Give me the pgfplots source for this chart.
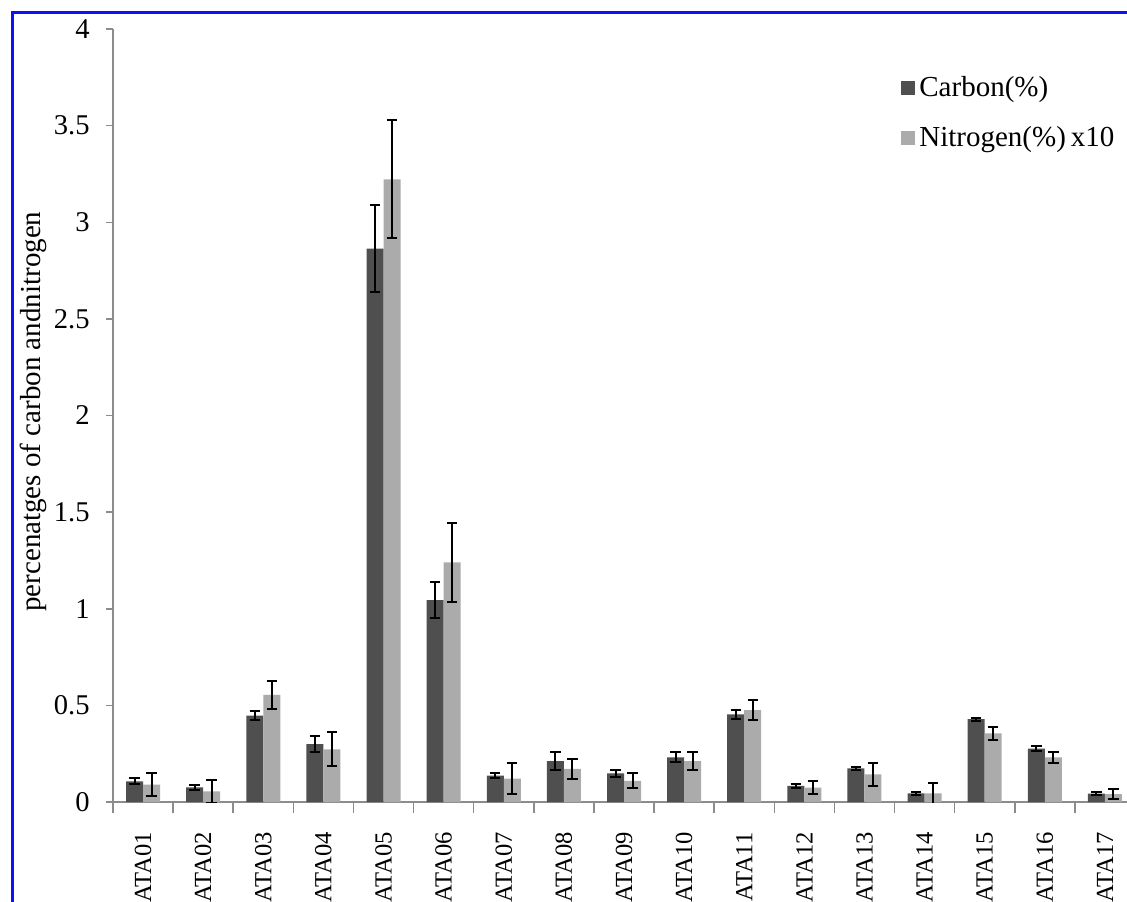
\documentclass[border=0pt]{standalone}
\usepackage{pgfplots}
\pgfplotsset{compat=1.18}
\usepackage{pgfplotstable}
\usepackage{fontspec}
\setmainfont{Liberation Serif}
\definecolor{darkbar}{HTML}{4F4F4F}
\definecolor{lightbar}{HTML}{ABABAB}
\definecolor{axisgray}{HTML}{8C8C8C}
\definecolor{frameblue}{HTML}{1010F0}
\pgfplotstableread{
x c cerr n nerr
0 0.107 0.015 0.090 0.058
1 0.076 0.012 0.055 0.058
2 0.447 0.023 0.554 0.073
3 0.300 0.039 0.273 0.088
4 2.863 0.225 3.222 0.305
5 1.045 0.095 1.240 0.206
6 0.136 0.012 0.121 0.081
7 0.212 0.048 0.172 0.053
8 0.148 0.017 0.110 0.039
9 0.231 0.026 0.212 0.047
10 0.454 0.023 0.476 0.054
11 0.083 0.008 0.074 0.034
12 0.174 0.008 0.143 0.060
13 0.045 0.009 0.045 0.055
14 0.429 0.008 0.355 0.034
15 0.276 0.014 0.231 0.028
16 0.043 0.008 0.041 0.024
}\datatable
\begin{document}
\begin{tikzpicture}
\useasboundingbox (0,0) rectangle (563.5pt,450.5pt);
\begin{axis}[
  at={(56.5pt,49.5pt)}, anchor=south west,
  scale only axis, width=511pt, height=386.5pt,
  xmin=-0.5, xmax=16.5, ymin=0, ymax=4,
  axis x line*=bottom, axis y line*=left,
  axis line style={axisgray, line width=0.75pt},
  ybar=0pt, bar width=8.5pt,
  xtick={0,...,16},
  xticklabels={ATA01,ATA02,ATA03,ATA04,ATA05,ATA06,ATA07,ATA08,ATA09,ATA10,ATA11,ATA12,ATA13,ATA14,ATA15,ATA16,ATA17},
  minor xtick={-0.5,0.5,...,16.5},
  major x tick style={draw=none},
  minor x tick style={axisgray, line width=0.75pt},
  ytick={0,0.5,...,4},
  major y tick style={axisgray, line width=0.75pt},
  tick align=outside,
  major tick length=3.5pt, minor tick length=5.5pt,
  /pgf/number format/assume math mode=true,
  xticklabel style={font=\fontsize{12.3}{15}\selectfont, text=black, rotate=90, anchor=east, inner sep=0pt},
  xticklabel shift=11.5pt,
  yticklabel style={font=\fontsize{14.3}{16}\selectfont, text=black, anchor=east, inner sep=0pt, xshift=-8pt},
  yticklabel shift=0pt,
  ylabel={percenatges of carbon andnitrogen},
  every axis y label/.style={at={(axis description cs:-0.0783,0.505)}, rotate=90, anchor=center,
    font=\fontsize{14.5}{16}\selectfont},
  legend style={at={(axis description cs:0.771,0.944)}, anchor=north west, draw=none, fill=none,
    font=\fontsize{14.5}{17}\selectfont, row sep=9.5pt, inner sep=0pt},
  legend cell align=left,
  legend image code/.code={\fill[#1] (0pt,-3.5pt) rectangle (7pt,3.5pt);},
  error bars/error bar style={black, line width=1pt},
  error bars/error mark options={black, line width=1pt, mark size=2.6pt, rotate=90},
]
\addplot[fill=darkbar, draw=none, error bars/.cd, y dir=both, y explicit] table[x=x, y=c, y error=cerr] {\datatable};
\addplot[fill=lightbar, draw=none, error bars/.cd, y dir=both, y explicit] table[x=x, y=n, y error=nerr] {\datatable};
\legend{Carbon(\%), Nitrogen(\%)\,x10}
\end{axis}
\draw[frameblue, line width=1.5pt] (6pt,-2pt) -- (6pt,444pt) -- (566pt,444pt);
\end{tikzpicture}
\end{document}
